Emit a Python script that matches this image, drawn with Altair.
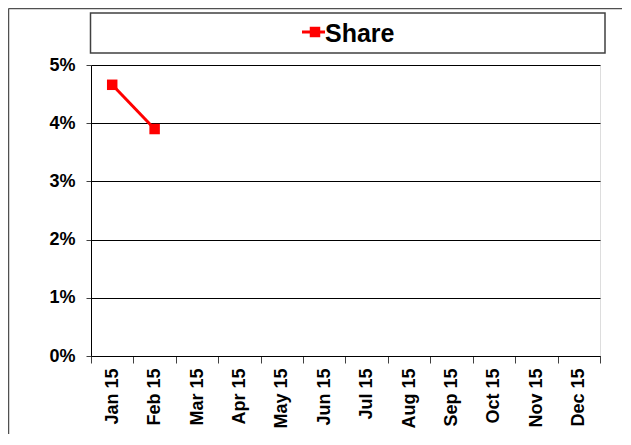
import altair as alt
import pandas as pd

months = ["Jan 15", "Feb 15", "Mar 15", "Apr 15", "May 15", "Jun 15",
          "Jul 15", "Aug 15", "Sep 15", "Oct 15", "Nov 15", "Dec 15"]
share = [0.0466, 0.0390]
series_name = ["Share"]
y_ticks = [0, 0.01, 0.02, 0.03, 0.04, 0.05]

FONT = "Liberation Sans"
RED = "#ff0000"

df = pd.DataFrame({"month": months[:len(share)], "share": share})
leg = pd.DataFrame({"label": series_name})

x_enc = alt.X(
    "month:N",
    bandPosition=0.5,
    scale=alt.Scale(type="band", domain=months, paddingInner=0, paddingOuter=0),
    axis=alt.Axis(
        title=None, labelAngle=-90, labelFont=FONT, labelFontWeight="bold",
        labelFontSize=18, labelColor="black", tickBand="extent", tickSize=7,
        tickColor="#404040", domainColor="black", grid=False, labelPadding=5,
    ),
)
y_enc = alt.Y(
    "share:Q",
    scale=alt.Scale(domain=[0, 0.05]),
    axis=alt.Axis(
        title=None, values=y_ticks, format=".0%", labelFont=FONT,
        labelFontWeight="bold", labelFontSize=18, labelColor="black",
        grid=True, gridColor="black", gridWidth=1, tickSize=5,
        tickColor="#404040", domainColor="black", labelPadding=11,
    ),
)

line = alt.Chart(df).mark_line(color=RED, strokeWidth=3).encode(x=x_enc, y=y_enc)
pts = alt.Chart(df).mark_point(shape="square", filled=True, color=RED, size=110,
                               opacity=1).encode(x=x_enc, y=y_enc)

# Outer chart frame (left and top edges visible)
frame_left = alt.Chart(leg).mark_rule(color="#505050", strokeWidth=1.5).encode(
    x=alt.value(-82.5), y=alt.value(-56.5), y2=alt.value(600))
frame_top = alt.Chart(leg).mark_rule(color="#505050", strokeWidth=1.5).encode(
    x=alt.value(-82.5), x2=alt.value(800), y=alt.value(-56.5))

# Legend box
leg_box = alt.Chart(leg).mark_rect(fill="white", stroke="#404040", strokeWidth=1.5).encode(
    x=alt.value(-0.5), x2=alt.value(514), y=alt.value(-52), y2=alt.value(-12))
leg_line = alt.Chart(leg).mark_rule(color=RED, strokeWidth=3).encode(
    x=alt.value(211), x2=alt.value(234), y=alt.value(-33))
leg_pt = alt.Chart(leg).mark_point(shape="square", filled=True, color=RED, size=110,
                                   opacity=1).encode(x=alt.value(224), y=alt.value(-33))
leg_text = alt.Chart(leg).mark_text(align="left", baseline="middle", font=FONT,
                                    fontWeight="bold", fontSize=25, color="black").encode(
    x=alt.value(234), y=alt.value(-31), text="label:N")

chart = alt.layer(
    line, pts, frame_left, frame_top, leg_box, leg_line, leg_pt, leg_text
).properties(
    width=509, height=291,
    autosize=alt.AutoSizeParams(type="none"),
    padding={"left": 83, "top": 57, "right": 22, "bottom": 78},
).configure_view(stroke="black", strokeWidth=1).configure(background="white")

chart.save("out.html", embed_options={"renderer": "svg", "actions": False})
